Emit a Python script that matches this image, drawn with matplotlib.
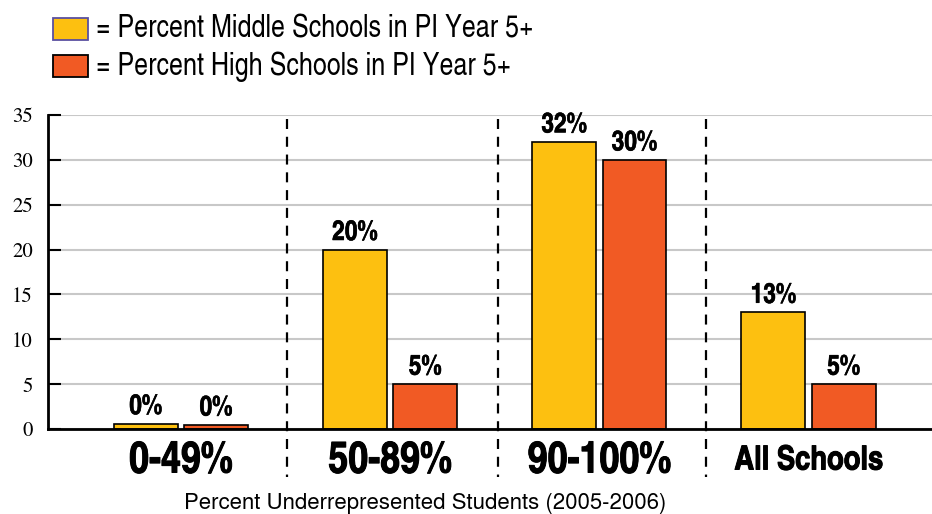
import numpy as np
import matplotlib
matplotlib.use("Agg")
import matplotlib.pyplot as plt
import matplotlib.patheffects as pe
from matplotlib.patches import Rectangle
from matplotlib.transforms import blended_transform_factory

categories = ["0-49%", "50-89%", "90-100%", "All Schools"]
middle_pct = [0, 20, 32, 13]
high_pct = [0, 5, 30, 5]
y_ticks = [0, 5, 10, 15, 20, 25, 30, 35]

legend_labels = ["= Percent Middle Schools in PI Year 5+",
                 "= Percent High Schools in PI Year 5+"]
x_title = "Percent Underrepresented Students (2005-2006)"

YELLOW = "#FDC010"
ORANGE = "#F15A24"
COND = ["TeX Gyre Heros Cn", "DejaVu Sans"]
SANS = ["TeX Gyre Heros", "Liberation Sans", "DejaVu Sans"]
SERIF = ["TeX Gyre Termes", "Liberation Serif", "DejaVu Serif"]

fig = plt.figure(figsize=(9.32, 5.14), dpi=100)
ax = fig.add_axes([48 / 932, 1 - 429 / 514, 1 - 48 / 932, (429 - 115) / 514])

x = np.arange(len(categories))
width = 0.305
offset = 0.168

# zero-valued bars are still shown as a thin stub
stub = 0.5
mid_h = [max(v, stub + 0.1) for v in middle_pct]
high_h = [max(v, stub - 0.05) for v in high_pct]

ax.bar(x - offset, mid_h, width, color=YELLOW, edgecolor="black", linewidth=1.2, zorder=3)
ax.bar(x + offset, high_h, width, color=ORANGE, edgecolor="black", linewidth=1.2, zorder=3)

heavy_small = [pe.withStroke(linewidth=0.4, foreground="black")]
heavy_big = [pe.withStroke(linewidth=0.7, foreground="black")]

for xs, vals, hs in [(x - offset, middle_pct, mid_h), (x + offset, high_pct, high_h)]:
    for xi, v, h in zip(xs, vals, hs):
        ax.text(xi, h + 0.4, f"{v}%", ha="center", va="bottom", fontsize=20,
                fontweight="bold", family=COND, zorder=4, path_effects=heavy_small)

ax.set_xlim(-0.635, 3.59)
ax.set_ylim(0, 35)
ax.set_yticks(y_ticks)
ax.set_yticklabels([str(t) for t in y_ticks], family=SERIF, fontsize=15)
ax.tick_params(axis="y", direction="in", length=9, width=1.5, pad=11, color="black")
ax.set_xticks([])
ax.yaxis.grid(True, color="#c8c8c8", linewidth=1.5, zorder=0)
ax.set_axisbelow(True)

for s in ["top", "right"]:
    ax.spines[s].set_visible(False)
ax.spines["left"].set_linewidth(2)
ax.spines["bottom"].set_linewidth(2)
ax.spines["bottom"].set_zorder(5)

# dashed group separators, running past the axis down through the labels
for sx in [0.505, 1.515, 2.51]:
    ax.plot([sx, sx], [34.5, -5.4], color="black", linewidth=1.6,
            linestyle=(0, (4.5, 3.5)), clip_on=False, zorder=2)

# category labels under each group
trans = blended_transform_factory(ax.transData, fig.transFigure)
cat_sizes = [31.5, 31.5, 31.5, 24]
for xi, lab, fs in zip(x, categories, cat_sizes):
    ax.text(xi, 1 - 461 / 514, lab, transform=trans, ha="center", va="center",
            fontsize=fs, fontweight="bold", family=COND, path_effects=heavy_big)

fig.text(425 / 932, 1 - 503 / 514, x_title, ha="center", va="center",
         fontsize=16, family=SANS)

# legend drawn as swatches with text
for (y0, col, ec, lab) in [(18, YELLOW, "#5a50a0", legend_labels[0]),
                           (55, ORANGE, "black", legend_labels[1])]:
    fig.patches.append(Rectangle((53 / 932, 1 - (y0 + 22) / 514), 35 / 932, 22 / 514,
                                 transform=fig.transFigure, facecolor=col,
                                 edgecolor=ec, linewidth=1.3))
    fig.text(96 / 932, 1 - (y0 + 12) / 514, lab, ha="left", va="center",
             fontsize=22, family=COND)

fig.savefig("out.png", dpi=100)
